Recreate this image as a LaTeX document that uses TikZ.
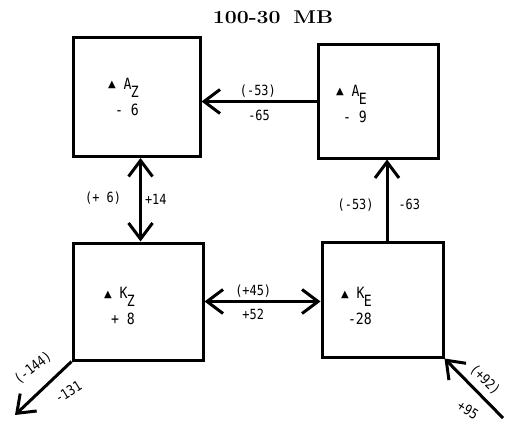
\documentclass[tikz,border=0pt]{standalone}
\usepackage{fontspec}
\newfontfamily\letterfont[FakeStretch=0.85]{DejaVu Sans Mono}
\newfontfamily\trifont{DejaVu Sans}
\usetikzlibrary{arrows.meta,positioning}
\tikzset{
  stock/.style={
    shape = rectangle,
    draw,
    line width = 3pt,
    inner sep = 0pt
  },
  flux/.style={
    line width = 3pt,
    -{Straight Barb[length=16pt,width=24pt]}
  },
  fluxboth/.style={
    line width = 3pt,
    {Straight Barb[length=16pt,width=24pt]}-{Straight Barb[length=16pt,width=24pt]}
  },
  stocktxt/.style={
    font = \letterfont\fontsize{15.5}{26}\selectfont,
    align = right,
    anchor = north east,
    inner sep = 0pt
  },
  fluxlbl/.style={
    font = \letterfont\fontsize{14}{16}\selectfont,
    inner sep = 1pt
  }
}
\newcommand{\dvar}[2]{\raisebox{1.5pt}{\trifont\fontsize{10}{10}\selectfont ▲} #1\kern-0.05em\raisebox{-8pt}[0pt][0pt]{#2}}

\begin{document}
\begin{tikzpicture}[x=1pt, y=-1pt]
    \useasboundingbox (0,0) rectangle (505,422);
    \node[font=\bfseries\fontsize{18.5}{22}\selectfont] (title) at (273,17) {\scalebox{1.15}[1]{100-30\hspace{0.6em}MB}};
    % reservoirs
    \node[stock, minimum width=127pt, minimum height=119pt] (az) at (136.5,97) {};
    \node[stock, minimum width=120pt, minimum height=113pt] (ae) at (378,101.5) {};
    \node[stock, minimum width=130pt, minimum height=117pt] (kz) at (138,301.5) {};
    \node[stock, minimum width=121pt, minimum height=115pt] (ke) at (382.5,299.5) {};
    \node[stocktxt] (aztxt) at ([shift={(2.5,-19)}]az.center) {\dvar{A}{Z}\\- 6};
    \node[stocktxt] (aetxt) at ([shift={(-11,-16.5)}]ae.center) {\dvar{A}{E}\\- 9};
    \node[stocktxt] (kztxt) at ([shift={(-3,-14.5)}]kz.center) {\dvar{K}{Z}\\+ 8};
    \node[stocktxt] (ketxt) at ([shift={(-10.5,-12.5)}]ke.center) {\dvar{K}{E}\\-28};
    % fluxes
    \coordinate (azs) at ([shift={(4,0)}]az.south);
    \coordinate (ken) at ([shift={(4.5,0)}]ke.north);
    \coordinate (kein) at (503,418);
    \coordinate (kzout) at (15,415);
    \draw[flux] (ae.west) -- (ae.west -| az.east)
        node[fluxlbl, above=2pt, pos=0.51] (l1) {(-53)}
        node[fluxlbl, below=6pt, pos=0.50] (l2) {-65};
    \draw[fluxboth] (azs) -- (azs |- kz.north)
        node[fluxlbl, left=17pt, pos=0.48] (l3) {(+ 6)}
        node[fluxlbl, right=2pt, pos=0.50] (l4) {+14};
    \draw[fluxboth] (kz.east) -- (kz.east -| ke.west)
        node[fluxlbl, above=2pt, pos=0.42] (l5) {(+45)}
        node[fluxlbl, below=5pt, pos=0.42] (l6) {+52};
    \draw[flux] (ken) -- (ken |- ae.south)
        node[fluxlbl, left=11pt, pos=0.44] (l7) {(-53)}
        node[fluxlbl, right=9pt, pos=0.44] (l8) {-63};
    \draw[flux] (kein) -- (ke.south east);
    \draw[flux] (kz.south west) -- (kzout);
    \node[fluxlbl, rotate=-45] (l9) at (485,380) {(+92)};
    \node[fluxlbl, rotate=-32] (l10) at (468,410) {+95};
    \node[fluxlbl, rotate=38] (l11) at (33,368) {(-144)};
    \node[fluxlbl, rotate=32] (l12) at (68,392) {-131};
\end{tikzpicture}
\end{document}
